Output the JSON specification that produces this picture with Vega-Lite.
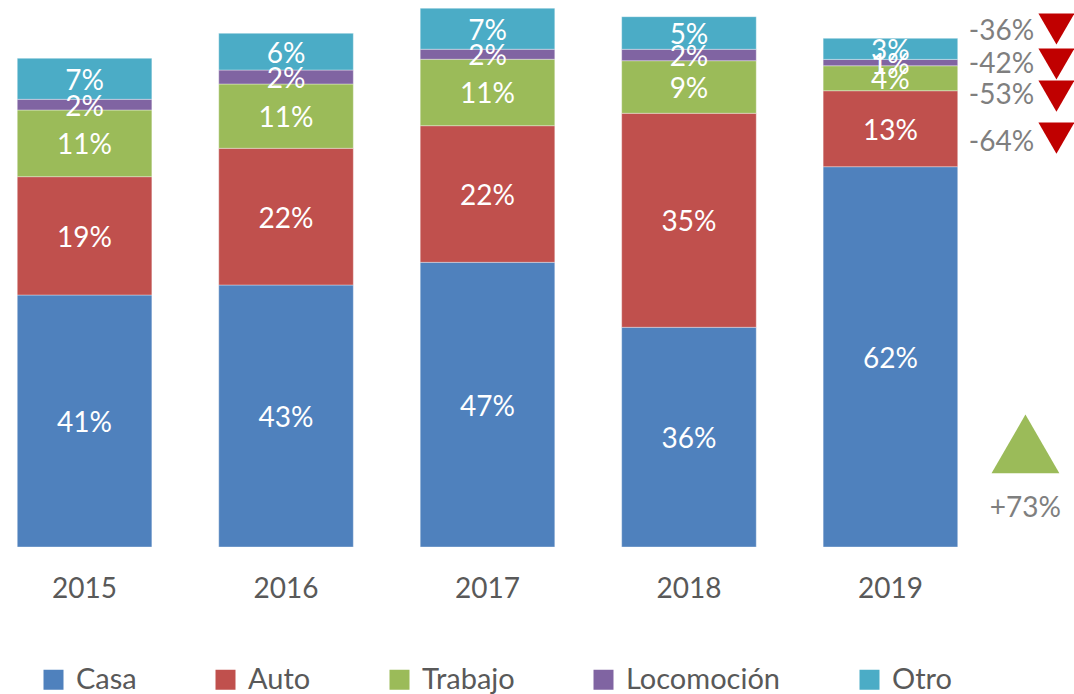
{
  "$schema": "https://vega.github.io/schema/vega-lite/v6.json",
  "width": 975,
  "height": 547,
  "padding": 0,
  "background": "#ffffff",
  "config": {
    "view": {"stroke": null},
    "font": "Lato",
    "text": {"font": "Lato"}
  },
  "datasets": {
    "bars": [
      {"year": "2015", "cat": "Casa", "k": 1, "value": 41.46, "label": "41%"},
      {"year": "2015", "cat": "Auto", "k": 2, "value": 19.47, "label": "19%"},
      {"year": "2015", "cat": "Trabajo", "k": 3, "value": 10.97, "label": "11%"},
      {"year": "2015", "cat": "Locomoción", "k": 4, "value": 1.76, "label": "2%"},
      {"year": "2015", "cat": "Otro", "k": 5, "value": 6.75, "label": "7%"},
      {"year": "2016", "cat": "Casa", "k": 1, "value": 43.11, "label": "43%"},
      {"year": "2016", "cat": "Auto", "k": 2, "value": 22.49, "label": "22%"},
      {"year": "2016", "cat": "Trabajo", "k": 3, "value": 10.58, "label": "11%"},
      {"year": "2016", "cat": "Locomoción", "k": 4, "value": 2.3, "label": "2%"},
      {"year": "2016", "cat": "Otro", "k": 5, "value": 6.04, "label": "6%"},
      {"year": "2017", "cat": "Casa", "k": 1, "value": 46.84, "label": "47%"},
      {"year": "2017", "cat": "Auto", "k": 2, "value": 22.48, "label": "22%"},
      {"year": "2017", "cat": "Trabajo", "k": 3, "value": 10.93, "label": "11%"},
      {"year": "2017", "cat": "Locomoción", "k": 4, "value": 1.65, "label": "2%"},
      {"year": "2017", "cat": "Otro", "k": 5, "value": 6.75, "label": "7%"},
      {"year": "2018", "cat": "Casa", "k": 1, "value": 36.15, "label": "36%"},
      {"year": "2018", "cat": "Auto", "k": 2, "value": 35.21, "label": "35%"},
      {"year": "2018", "cat": "Trabajo", "k": 3, "value": 8.65, "label": "9%"},
      {"year": "2018", "cat": "Locomoción", "k": 4, "value": 1.88, "label": "2%"},
      {"year": "2018", "cat": "Otro", "k": 5, "value": 5.36, "label": "5%"},
      {"year": "2019", "cat": "Casa", "k": 1, "value": 62.57, "label": "62%"},
      {"year": "2019", "cat": "Auto", "k": 2, "value": 12.5, "label": "13%"},
      {"year": "2019", "cat": "Trabajo", "k": 3, "value": 4.11, "label": "4%"},
      {"year": "2019", "cat": "Locomoción", "k": 4, "value": 1.05, "label": "1%"},
      {"year": "2019", "cat": "Otro", "k": 5, "value": 3.46, "label": "3%"}
    ],
    "notes": [
      {"year": "2019", "ty": 85.4, "my": 85.23, "txt": "-36%", "dir": "down"},
      {"year": "2019", "ty": 80.0, "my": 79.47, "txt": "-42%", "dir": "down"},
      {"year": "2019", "ty": 74.9, "my": 74.2, "txt": "-53%", "dir": "down"},
      {"year": "2019", "ty": 67.1, "my": 67.29, "txt": "-64%", "dir": "down"}
    ],
    "upnote": [
      {"year": "2019", "ty": 6.91, "my": 16.95, "txt": "+73%", "dir": "up"}
    ]
  },
  "layer": [
    {
      "data": {"name": "bars"},
      "mark": {"type": "bar", "stroke": "#ffffff", "strokeWidth": 0.6, "strokeOpacity": 0.6},
      "encoding": {
        "x": {
          "field": "year", "type": "nominal", "title": null,
          "scale": {"paddingInner": 0.332, "paddingOuter": 0.0857},
          "axis": {"labelAngle": 0, "labelFontSize": 28, "labelColor": "#595959", "labelPadding": 28, "ticks": false, "domain": false, "labelFont": "Lato"}
        },
        "y": {
          "field": "value", "type": "quantitative", "stack": "zero",
          "scale": {"domain": [0, 90], "nice": false, "zero": true},
          "axis": null
        },
        "order": {"field": "k", "type": "quantitative", "sort": "ascending"},
        "color": {
          "field": "cat", "type": "nominal", "title": null,
          "scale": {
            "domain": ["Casa", "Auto", "Trabajo", "Locomoción", "Otro"],
            "range": ["#4F81BD", "#C0504D", "#9BBB59", "#8064A2", "#4BACC6"]
          },
          "legend": {
            "orient": "none", "legendX": 39, "legendY": 665, "direction": "horizontal",
            "symbolType": "square", "symbolSize": 400, "symbolStrokeWidth": 0,
            "labelFontSize": 29, "labelColor": "#595959", "labelFont": "Lato",
            "labelOffset": 8, "columnPadding": 74
          }
        }
      }
    },
    {
      "data": {"name": "bars"},
      "transform": [
        {"stack": "value", "groupby": ["year"], "sort": [{"field": "k", "order": "ascending"}], "as": ["y0", "y1"]},
        {"fold": ["y0", "y1"], "as": ["edge", "pos"]},
        {"aggregate": [{"op": "mean", "field": "pos", "as": "mid"}], "groupby": ["year", "cat", "label"]}
      ],
      "mark": {"type": "text", "color": "#ffffff", "fontSize": 28, "baseline": "middle", "align": "center", "dy": 3},
      "encoding": {
        "x": {"field": "year", "type": "nominal"},
        "y": {"field": "mid", "type": "quantitative"},
        "text": {"field": "label", "type": "nominal"}
      }
    },
    {
      "data": {"name": "notes"},
      "mark": {"type": "text", "color": "#7F7F7F", "fontSize": 28, "baseline": "middle", "align": "center", "dx": 111, "dy": 4},
      "encoding": {
        "x": {"field": "year", "type": "nominal"},
        "y": {"field": "ty", "type": "quantitative"},
        "text": {"field": "txt", "type": "nominal"}
      }
    },
    {
      "data": {"name": "notes"},
      "mark": {"type": "point", "shape": "triangle-down", "filled": true, "color": "#C00000", "opacity": 1, "size": 1300, "xOffset": 166},
      "encoding": {
        "x": {"field": "year", "type": "nominal"},
        "y": {"field": "my", "type": "quantitative"}
      }
    },
    {
      "data": {"name": "upnote"},
      "mark": {"type": "text", "color": "#7F7F7F", "fontSize": 28, "baseline": "middle", "align": "center", "dx": 135, "dy": 4},
      "encoding": {
        "x": {"field": "year", "type": "nominal"},
        "y": {"field": "ty", "type": "quantitative"},
        "text": {"field": "txt", "type": "nominal"}
      }
    },
    {
      "data": {"name": "upnote"},
      "mark": {"type": "point", "shape": "triangle-up", "filled": true, "color": "#9BBB59", "opacity": 1, "size": 4600, "xOffset": 135},
      "encoding": {
        "x": {"field": "year", "type": "nominal"},
        "y": {"field": "my", "type": "quantitative"}
      }
    }
  ]
}
